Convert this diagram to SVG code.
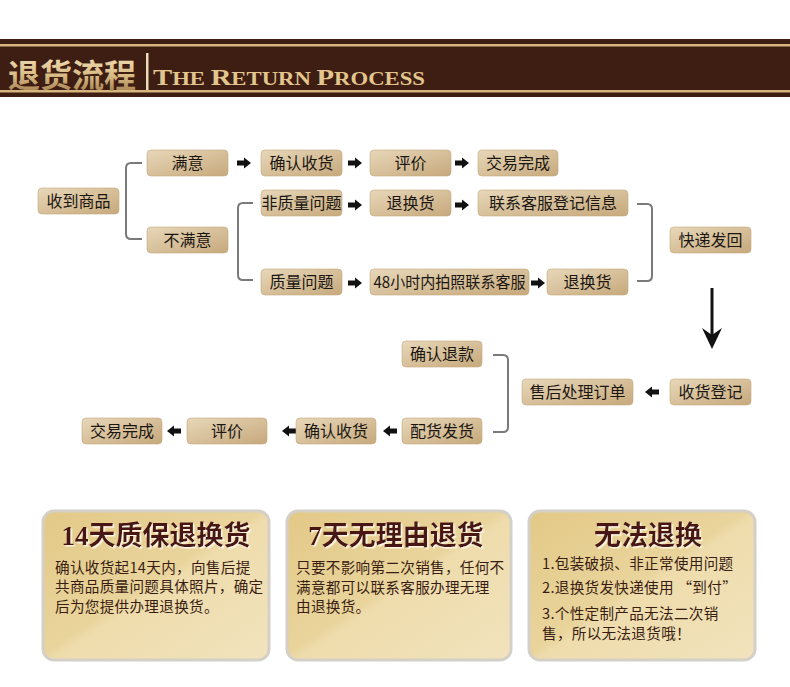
<svg xmlns="http://www.w3.org/2000/svg" width="790" height="687" viewBox="0 0 790 687">
<defs>
<linearGradient id="boxg" x1="0" y1="0" x2="1" y2="1">
<stop offset="0" stop-color="#e7d7b9"/>
<stop offset="1" stop-color="#c7a97c"/>
</linearGradient>
<linearGradient id="cardg" x1="0" y1="0" x2="1" y2="1">
<stop offset="0" stop-color="#e3c987"/>
<stop offset="0.48" stop-color="#e9d49c"/>
<stop offset="0.52" stop-color="#eedcac"/>
<stop offset="1" stop-color="#f2e3bd"/>
</linearGradient>
<linearGradient id="goldg" x1="0" y1="0" x2="0" y2="1">
<stop offset="0" stop-color="#f6e6c0"/>
<stop offset="0.55" stop-color="#d9bc86"/>
<stop offset="1" stop-color="#9c7646"/>
</linearGradient>
<filter id="tsh" x="-5%" y="-20%" width="110%" height="140%">
<feDropShadow dx="1.5" dy="1.5" stdDeviation="0.3" flood-color="#fff6e4" flood-opacity="1"/>
</filter>
<path id="ar" d="M0,-2.6 H7 V-5.6 L14,0 L7,5.6 V2.6 H0 Z" fill="#111"/>
<path id="al" d="M14,-2.6 H7 V-5.6 L0,0 L7,5.6 V2.6 H14 Z" fill="#111"/>
</defs>
<style>
.box{fill:url(#boxg);stroke:#c2a77e;stroke-width:0.6}
.bt{font-family:"Noto Sans CJK SC","Noto Sans",sans-serif;font-size:16px;fill:#1a1612;text-anchor:middle}
.br{fill:none;stroke:#7a7a7a;stroke-width:2}
.card{fill:url(#cardg);stroke:#d4d0c8;stroke-width:3}
.ct{font-family:"Liberation Serif","Noto Sans CJK SC",serif;font-weight:bold;font-size:27px;text-anchor:middle;fill:#4a1212;filter:url(#tsh)}
.cb{font-family:"Noto Sans CJK SC","Noto Sans",sans-serif;font-size:14.6px;letter-spacing:0.3px;fill:#3a1d12}
</style>
<rect x="0" y="0" width="790" height="687" fill="#ffffff"/>
<g id="header">
<rect x="0" y="39" width="790" height="58" fill="#3e1d13"/>
<rect x="0" y="44" width="790" height="2.5" fill="#d6b67e"/>
<rect x="0" y="90" width="790" height="2.5" fill="#d6b67e"/>
<text x="8" y="87" font-family="Noto Sans CJK SC,sans-serif" font-weight="bold" font-size="32" fill="url(#goldg)">退货流程</text>
<rect x="146" y="53" width="2.5" height="37" fill="#ecdcb8"/>
<text x="153" y="85" font-family="Liberation Serif,serif" font-weight="bold" fill="#e2c68e" textLength="272" lengthAdjust="spacingAndGlyphs"><tspan font-size="24">T</tspan><tspan font-size="19">HE </tspan><tspan font-size="24">R</tspan><tspan font-size="19">ETURN </tspan><tspan font-size="24">P</tspan><tspan font-size="19">ROCESS</tspan></text>
</g>
<g id="connectors">
<path class="br" d="M142,163 H131 Q126,163 126,168 V234 Q126,239 131,239 H142"/>
<path class="br" d="M253,203 H243 Q238,203 238,208 V275 Q238,280 243,280 H253"/>
<path class="br" d="M637,204 H647 Q652,204 652,209 V276 Q652,281 647,281 H637"/>
<path class="br" d="M493,355 H503 Q508,355 508,360 V427 Q508,432 503,432 H493"/>
<use href="#ar" x="237" y="163"/>
<use href="#ar" x="348" y="163"/>
<use href="#ar" x="455" y="163"/>
<use href="#ar" x="348" y="205"/>
<use href="#ar" x="455" y="205"/>
<use href="#ar" x="348" y="283"/>
<use href="#ar" x="531" y="283"/>
<rect x="710.5" y="288" width="3" height="48" fill="#111"/>
<path d="M702,328 L712,335 L722,328 L712,349 Z" fill="#111"/>
<use href="#al" x="645" y="392"/>
<use href="#al" x="383" y="431"/>
<use href="#al" x="282" y="431"/>
<use href="#al" x="167" y="431"/>
</g>
<g id="n1"><rect class="box" x="38" y="188" width="81" height="26" rx="4"/><text class="bt" x="78.5" y="207">收到商品</text></g>
<g id="n2"><rect class="box" x="147" y="150" width="81" height="26" rx="4"/><text class="bt" x="187.5" y="169">满意</text></g>
<g id="n3"><rect class="box" x="261" y="150" width="81" height="26" rx="4"/><text class="bt" x="301.5" y="169">确认收货</text></g>
<g id="n4"><rect class="box" x="370" y="150" width="81" height="26" rx="4"/><text class="bt" x="410.5" y="169">评价</text></g>
<g id="n5"><rect class="box" x="478" y="150" width="80" height="26" rx="4"/><text class="bt" x="518" y="169">交易完成</text></g>
<g id="n6"><rect class="box" x="147" y="227" width="81" height="26" rx="4"/><text class="bt" x="187.5" y="246">不满意</text></g>
<g id="n7"><rect class="box" x="261" y="190" width="81" height="26" rx="4"/><text class="bt" x="301.5" y="209">非质量问题</text></g>
<g id="n8"><rect class="box" x="370" y="190" width="81" height="26" rx="4"/><text class="bt" x="410.5" y="209">退换货</text></g>
<g id="n9"><rect class="box" x="478" y="190" width="150" height="26" rx="4"/><text class="bt" x="553" y="209">联系客服登记信息</text></g>
<g id="n10"><rect class="box" x="670" y="227" width="81" height="26" rx="4"/><text class="bt" x="710.5" y="246">快递发回</text></g>
<g id="n11"><rect class="box" x="261" y="269" width="81" height="26" rx="4"/><text class="bt" x="301.5" y="288">质量问题</text></g>
<g id="n12"><rect class="box" x="370" y="269" width="159" height="26" rx="4"/><text class="bt" x="449.5" y="288" textLength="152" lengthAdjust="spacingAndGlyphs">48小时内拍照联系客服</text></g>
<g id="n13"><rect class="box" x="547" y="269" width="81" height="26" rx="4"/><text class="bt" x="587.5" y="288">退换货</text></g>
<g id="n14"><rect class="box" x="402" y="341" width="80" height="26" rx="4"/><text class="bt" x="442" y="360">确认退款</text></g>
<g id="n15"><rect class="box" x="522" y="379" width="111" height="26" rx="4"/><text class="bt" x="577.5" y="398">售后处理订单</text></g>
<g id="n16"><rect class="box" x="670" y="379" width="81" height="26" rx="4"/><text class="bt" x="710.5" y="398">收货登记</text></g>
<g id="n17"><rect class="box" x="402" y="418" width="80" height="26" rx="4"/><text class="bt" x="442" y="437">配货发货</text></g>
<g id="n18"><rect class="box" x="296" y="418" width="80" height="26" rx="4"/><text class="bt" x="336" y="437">确认收货</text></g>
<g id="n19"><rect class="box" x="187" y="418" width="80" height="26" rx="4"/><text class="bt" x="227" y="437">评价</text></g>
<g id="n20"><rect class="box" x="82" y="418" width="80" height="26" rx="4"/><text class="bt" x="122" y="437">交易完成</text></g>
<g id="card1">
<rect class="card" x="43" y="511" width="226" height="149" rx="11"/>
<text class="ct" x="156" y="545">14天质保退换货</text>
<text class="cb" x="55" y="572.5">确认收货起14天内，向售后提</text>
<text class="cb" x="55" y="592">共商品质量问题具体照片，确定</text>
<text class="cb" x="55" y="611.5">后为您提供办理退换货。</text>
</g>
<g id="card2">
<rect class="card" x="287" y="511" width="224" height="149" rx="11"/>
<text class="ct" x="396" y="545">7天无理由退货</text>
<text class="cb" x="296" y="573">只要不影响第二次销售，任何不</text>
<text class="cb" x="296" y="592.5">满意都可以联系客服办理无理</text>
<text class="cb" x="296" y="612">由退换货。</text>
</g>
<g id="card3">
<rect class="card" x="529" y="511" width="226" height="149" rx="11"/>
<text class="ct" x="648" y="545">无法退换</text>
<text class="cb" x="542" y="569">1.包装破损、非正常使用问题</text>
<text class="cb" x="542" y="593">2.退换货发快递使用 “到付”</text>
<text class="cb" x="542" y="619">3.个性定制产品无法二次销</text>
<text class="cb" x="542" y="639">售，所以无法退货哦！</text>
</g>
</svg>
